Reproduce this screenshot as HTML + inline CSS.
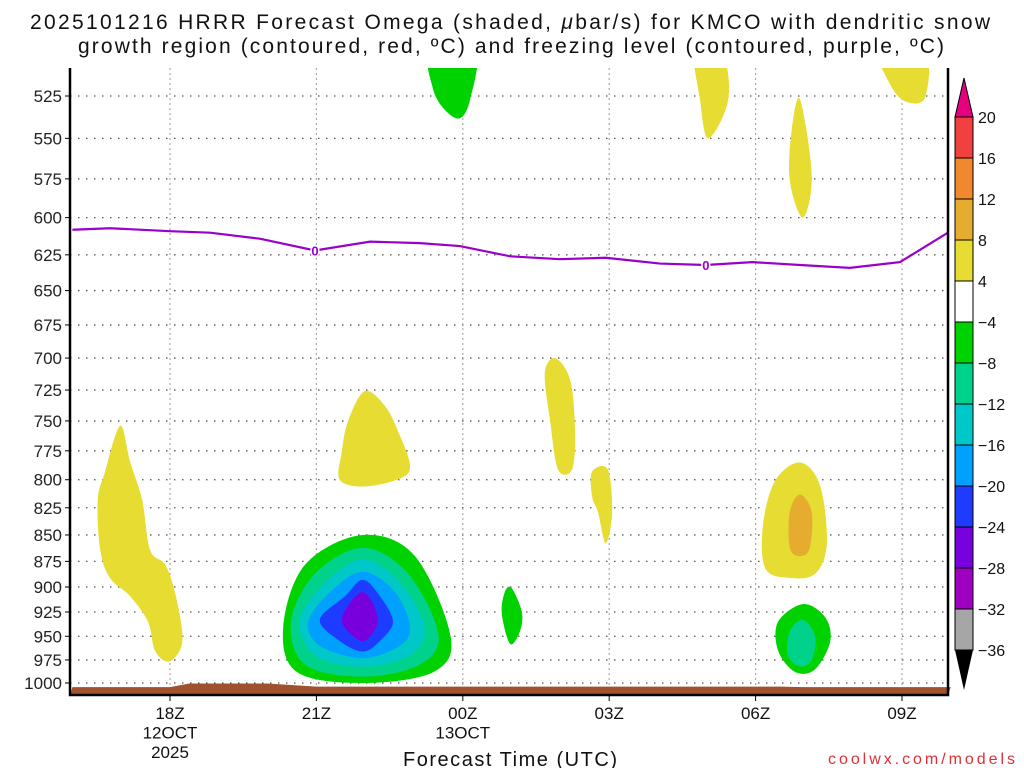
<!DOCTYPE html>
<html><head><meta charset="utf-8"><style>
body{margin:0;background:#fff;width:1024px;height:768px;overflow:hidden}
svg{display:block;font-family:"Liberation Sans",sans-serif}
</style></head><body>
<svg id="chart" width="1024" height="768" viewBox="0 0 1024 768" xmlns="http://www.w3.org/2000/svg">
<text x="30" y="29" textLength="960" lengthAdjust="spacing" font-size="21" fill="#111">2025101216 HRRR Forecast Omega (shaded, <tspan font-style="italic">μ</tspan>bar/s) for KMCO with dendritic snow</text>
<text x="78" y="53" textLength="866" lengthAdjust="spacing" font-size="21" fill="#111">growth region (contoured, red, ºC) and freezing level (contoured, purple, ºC)</text>
<defs><clipPath id="plotclip"><rect x="70" y="68" width="878" height="627"/></clipPath></defs>
<g id="grid"></g>
<g id="shades" clip-path="url(#plotclip)"></g>
<g id="frz" clip-path="url(#plotclip)"></g>
<g id="terrain"></g>
<g id="axes"></g>
<g id="cbar"></g>
<text x="403" y="766" textLength="214" lengthAdjust="spacing" font-size="20" fill="#111">Forecast Time (UTC)</text>
<text x="828" y="764" textLength="187" lengthAdjust="spacing" font-size="16" fill="#e0303a">coolwx.com/models</text>
</svg>
<script>
const pressureTicks=[525,550,575,600,625,650,675,700,725,750,775,800,825,850,875,900,925,950,975,1000];
const timeTickHours=[2,5,8,11,14,17];
const timeTickLabels=[["18Z","12OCT","2025"],["21Z"],["00Z","13OCT"],["03Z"],["06Z"],["09Z"]];
const cbLevels=[20,16,12,8,4,-4,-8,-12,-16,-20,-24,-28,-32,-36];
const cbColors=["#f04040","#f08830","#e6ac30","#e6dc32","#ffffff","#00d200","#00d28c","#00c8c8","#00a0ff","#1e3cff","#7800dc","#a000c0","#a6a6a6"];
const shapeColors=["#e6dc32","#e6dc32","#e6dc32","#e6dc32","#00d200","#00d200","#e6dc32","#e6dc32","#e6dc32","#e6dc32","#e6ac30","#00d200","#00d28c","#00d200","#00d28c","#00c8c8","#00a0ff","#1e3cff","#7800dc"];
const shapes=[
[[0.98,754],[1.18,784],[1.43,818],[1.59,864],[1.90,878],[2.10,905],[2.25,945],[2.20,965],[1.96,977],[1.69,965],[1.55,935],[1.18,909],[0.77,891],[0.57,864],[0.52,818],[0.67,793]],
[[5.99,726],[6.41,738],[6.71,762],[6.92,788],[6.71,799],[5.99,806],[5.48,800],[5.52,776],[5.65,750]],
[[9.89,700],[10.2,717],[10.3,758],[10.24,791],[9.95,791],[9.79,750],[9.68,712]],
[[10.65,793],[10.97,791],[11.06,829],[10.93,858],[10.77,829],[10.65,815]],
[[9.0,901],[9.21,925],[9.17,945],[8.97,958],[8.80,927],[8.86,905]],
[[7.33,500],[8.25,500],[8.15,527],[7.94,538],[7.63,533],[7.39,521]],
[[12.76,500],[13.31,500],[13.44,527],[13.03,550],[12.86,527]],
[[14.91,527],[15.15,573],[14.97,600],[14.70,576],[14.74,545]],
[[16.55,500],[17.47,500],[17.47,526],[17.06,528],[16.75,518]],
[[14.91,785],[15.32,805],[15.46,858],[15.22,887],[14.70,891],[14.2,882],[14.15,841],[14.4,801]],
[[14.91,813],[15.15,829],[15.11,862],[14.91,870],[14.70,862],[14.70,829]],
[[14.97,917],[15.42,930],[15.53,955],[15.22,985],[14.81,988],[14.46,965],[14.46,935]],
[[14.97,933],[15.22,950],[15.15,975],[14.91,982],[14.66,970],[14.70,945]],
[[5.95,850],[7.02,870],[7.75,950],[7.40,988],[5.95,1000],[4.60,988],[4.32,940],[4.77,878]],
[[5.95,862],[6.88,887],[7.50,948],[7.12,980],[5.95,993],[4.77,980],[4.48,935],[4.97,887]],
[[5.95,873],[6.71,896],[7.22,940],[6.92,970],[5.95,982],[4.97,970],[4.66,933],[5.18,896]],
[[5.95,885],[6.61,905],[6.92,940],[6.71,960],[5.95,973],[5.07,960],[4.83,935],[5.28,905]],
[[5.95,893],[6.30,909],[6.57,935],[6.30,955],[5.95,966],[5.48,955],[5.07,933],[5.59,909]],
[[5.95,905],[6.26,933],[5.95,955],[5.52,933]]
];
const frzHours=[0,0.77,2,2.82,3.84,4.97,6.1,7.12,7.94,8.97,9.99,10.93,12.04,12.98,13.93,14.91,15.93,16.96,17.94];
const frzPres=[608,607,609,610,614,622,616,617,619,626,628,627,631,632,630,632,634,630,610];
const frzLabelHours=[4.97,12.98];
const terrainHours=[0,2,2.4,4,5,14.5,15,18];
const terrainPres=[1004.5,1004.5,1000.5,1000.5,1004,1004,1004.5,1004.5];

const NS="http://www.w3.org/2000/svg";
const X=h=>72.4+48.8*h;
const Y=p=>96+911*Math.log(p/525);
function mk(tag,at,parent){const e=document.createElementNS(NS,tag);for(const k in at)e.setAttribute(k,at[k]);parent.appendChild(e);return e;}
const G=id=>document.getElementById(id);

for(const p of pressureTicks){
 const l=mk('line',{x1:70,x2:948,y1:Y(p),y2:Y(p),stroke:'#555','stroke-width':1.3,'stroke-dasharray':'1.5 6.5'},G('grid'));
 
 
 const t=mk('line',{x1:65,x2:70,y1:Y(p),y2:Y(p),stroke:'#000'},G('axes'));
 
 
 const tx=mk('text',{x:62,y:Y(p)+6,'text-anchor':'end','font-size':17,fill:'#222'},G('axes'));
 tx.textContent=p;
 
 
}
timeTickHours.forEach((h,i)=>{
 const l=mk('line',{x1:X(h),x2:X(h),y1:68,y2:695,stroke:'#aaa','stroke-width':1.2,'stroke-dasharray':'2 3'},G('grid'));
 
 
 const t=mk('line',{x1:X(h),x2:X(h),y1:695,y2:701,stroke:'#000'},G('axes'));
 
 
 timeTickLabels[i].forEach((s,j)=>{
  const tx=mk('text',{x:X(h),y:719+j*19.5,'text-anchor':'middle','font-size':17,fill:'#111'},G('axes'));
  tx.textContent=s;
  
  
 });
});
function smooth(pts){
 const P=pts.map(q=>[X(q[0]),Y(q[1])]);const n=P.length;let d=`M${P[0][0]},${P[0][1]}`;
 for(let i=0;i<n;i++){const p0=P[(i-1+n)%n],p1=P[i],p2=P[(i+1)%n],p3=P[(i+2)%n];
  d+=`C${p1[0]+(p2[0]-p0[0])/6},${p1[1]+(p2[1]-p0[1])/6} ${p2[0]-(p3[0]-p1[0])/6},${p2[1]-(p3[1]-p1[1])/6} ${p2[0]},${p2[1]}`;}
 return d+'Z';
}
shapes.forEach((s,i)=>{
 const e=mk('path',{d:smooth(s),fill:shapeColors[i]},G('shades'));
 
 
});
const fl=mk('path',{d:frzHours.map((h,i)=>(i?'L':'M')+X(h)+','+Y(frzPres[i])).join(''),fill:'none',stroke:'#9900cc','stroke-width':2.2},G('frz'));


frzLabelHours.forEach(h=>{
 let k=frzHours.findIndex(v=>v>=h);const p=frzPres[k];
 const t=mk('text',{x:X(h),y:Y(p)+5,'text-anchor':'middle','font-size':13,'font-weight':'bold',fill:'#9900cc',stroke:'#fff','stroke-width':3,'paint-order':'stroke'},G('frz'));
 t.textContent='0';
 
 
});
const tp=mk('path',{d:terrainHours.map((h,i)=>(i?'L':'M')+Math.max(70,X(h))+','+Y(terrainPres[i])).join('')+'L948,695L70,695Z',fill:'#a0522d'},G('terrain'));


const fr=mk('path',{d:'M70,68V695H948V68',fill:'none',stroke:'#000','stroke-width':2.5},G('axes'));


const cbTop=117,cbStep=41,cbX=955,cbW=18;
const tri1=mk('path',{d:`M${cbX},${cbTop}L${cbX+cbW/2},78L${cbX+cbW},${cbTop}Z`,fill:'#e6007e',stroke:'#000'},G('cbar'));


cbColors.forEach((c,i)=>{
 const r=mk('rect',{x:cbX,y:cbTop+i*cbStep,width:cbW,height:cbStep,fill:c,stroke:'#000'},G('cbar'));
 
 
});
const bot=cbTop+cbColors.length*cbStep;
const tri2=mk('path',{d:`M${cbX},${bot}L${cbX+cbW/2},690L${cbX+cbW},${bot}Z`,fill:'#000'},G('cbar'));


cbLevels.forEach((v,i)=>{
 const t=mk('text',{x:978,y:cbTop+i*cbStep+6,'font-size':16,fill:'#111'},G('cbar'));
 t.textContent=v<0?'−'+(-v):String(v);
 
 
});
</script>
</body></html>
